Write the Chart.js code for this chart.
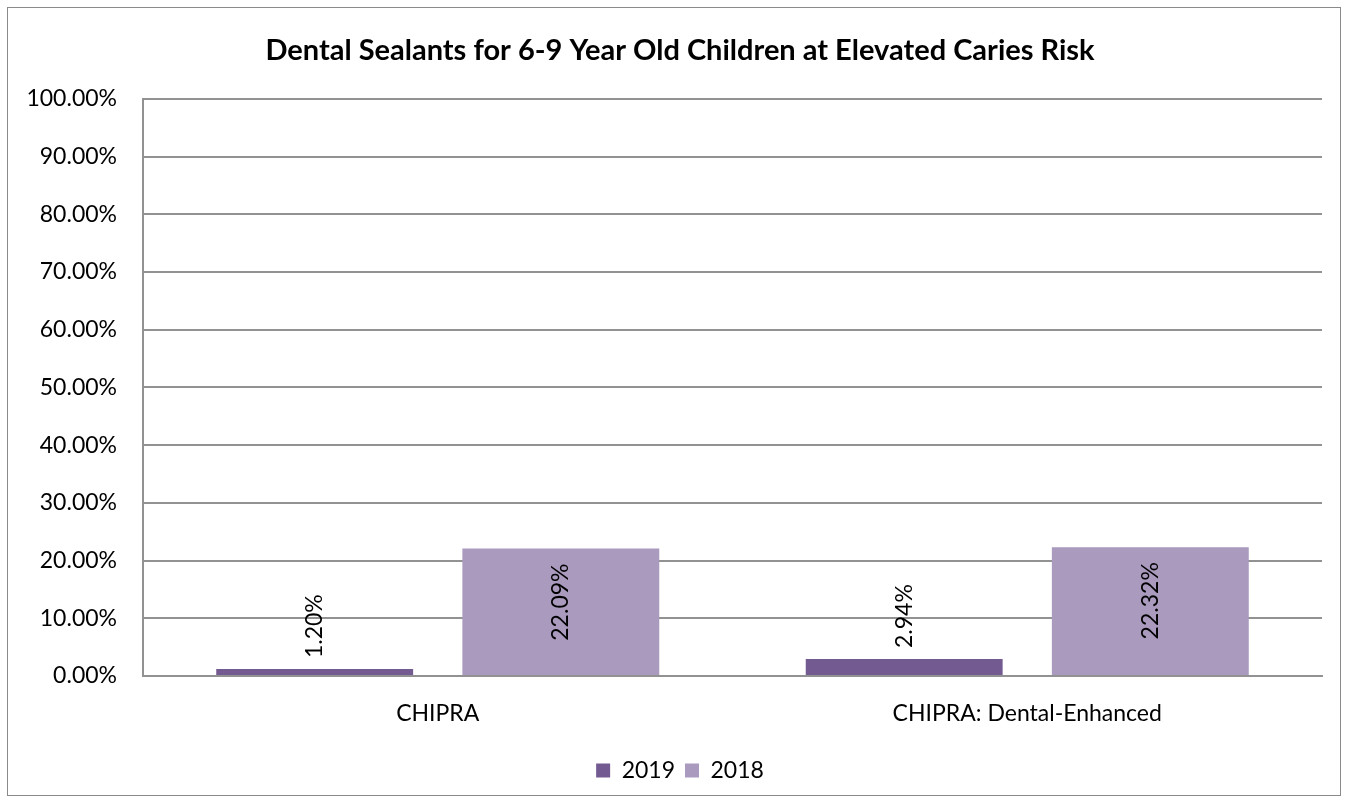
<!DOCTYPE html>
<html>
<head>
<meta charset="utf-8">
<script src="https://cdn.jsdelivr.net/npm/chart.js@4"></script>
<style>
  html, body { margin: 0; padding: 0; background: #fff; }
  #wrap { position: absolute; left: 0; top: 0; width: 1349px; height: 804px; }
  #frame { position: absolute; left: 7px; top: 7px; width: 1334px; height: 789px; border: 1px solid #8a8a8a; box-sizing: border-box; }
  canvas { position: absolute; left: 0; top: 0; }
</style>
</head>
<body>
<div id="wrap">
  <div id="frame"></div>
  <canvas id="chart" width="1349" height="804"></canvas>
</div>
<script>
const categories = ['CHIPRA', 'CHIPRA: Dental-Enhanced'];
const seriesNames = ['2019', '2018'];
const values2019 = [1.20, 2.94];
const values2018 = [22.09, 22.32];
const yTicks = [0, 10, 20, 30, 40, 50, 60, 70, 80, 90, 100];

const FONT = 'Lato, "Open Sans", sans-serif';

// vertical value labels, inside end when they fit, above the bar otherwise
const barLabels = {
  id: 'barLabels',
  afterDatasetsDraw(chart) {
    const ctx = chart.ctx;
    ctx.save();
    ctx.font = '23px ' + FONT;
    ctx.fillStyle = '#000';
    chart.data.datasets.forEach((ds, di) => {
      chart.getDatasetMeta(di).data.forEach((bar, i) => {
        const txt = ds.data[i].toFixed(2) + '%';
        const w = ctx.measureText(txt).width;
        const h = bar.base - bar.y;
        ctx.save();
        ctx.translate(bar.x, bar.y);
        ctx.rotate(-Math.PI / 2);
        ctx.textBaseline = 'middle';
        if (h > w + 30) {
          ctx.textAlign = 'right';
          ctx.fillText(txt, -15, 0);
        } else {
          ctx.textAlign = 'left';
          ctx.fillText(txt, 11, 0);
        }
        ctx.restore();
      });
    });
    ctx.restore();
  }
};

// title and legend are centred on the whole frame, not on the padded box
const centreOnFrame = {
  id: 'centreOnFrame',
  afterLayout(chart) {
    [chart.titleBlock, chart.legend].forEach(box => {
      if (!box) return;
      box.left += 19;
      box.right += 19;
    });
  }
};

new Chart(document.getElementById('chart'), {
  type: 'bar',
  data: {
    labels: categories,
    datasets: [
      { label: seriesNames[0], data: values2019, backgroundColor: '#735a91' },
      { label: seriesNames[1], data: values2018, backgroundColor: '#a99abe' }
    ]
  },
  options: {
    responsive: false,
    animation: false,
    categoryPercentage: 0.835,
    barPercentage: 0.8,
    layout: { padding: { left: 0, right: 27, top: 33, bottom: 12 } },
    plugins: {
      title: {
        display: true,
        text: 'Dental Sealants for 6-9 Year Old Children at Elevated Caries Risk',
        color: '#000',
        font: { family: FONT, size: 29, weight: 'bold' },
        padding: { top: 0, bottom: 31 }
      },
      legend: {
        position: 'bottom',
        labels: {
          color: '#000',
          font: { family: FONT, size: 23 },
          boxWidth: 14,
          boxHeight: 14,
          padding: 10
        }
      },
      tooltip: { enabled: false }
    },
    scales: {
      x: {
        grid: { display: false, drawTicks: false },
        border: { display: true, color: '#929292', width: 2 },
        ticks: { color: '#000', font: { family: FONT, size: 23 }, padding: 24 },
        afterFit(scale) { scale.height = 73; }
      },
      y: {
        min: 0,
        max: 100,
        afterBuildTicks(scale) { scale.ticks = yTicks.map(v => ({ value: v })); },
        grid: { color: '#929292', lineWidth: 2, drawTicks: false },
        border: { display: true, color: '#929292', width: 2 },
        ticks: {
          color: '#000',
          font: { family: FONT, size: 23 },
          padding: 26,
          callback: v => v.toFixed(2) + '%'
        },
        afterFit(scale) { scale.width = 143; }
      }
    }
  },
  plugins: [barLabels, centreOnFrame]
});
</script>
</body>
</html>
